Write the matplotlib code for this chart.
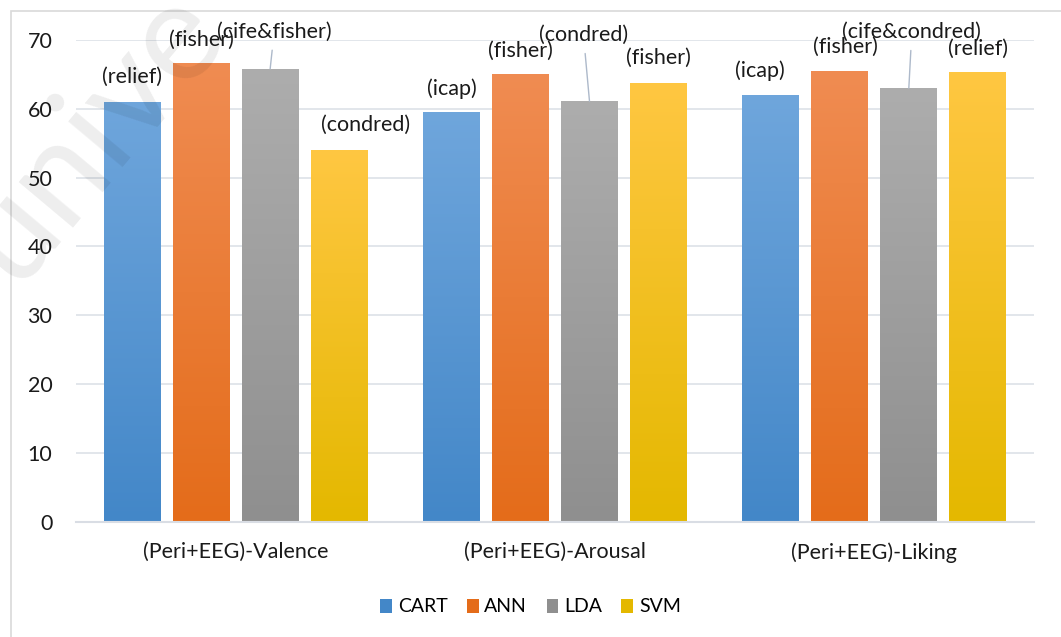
import numpy as np
import matplotlib.pyplot as plt
from matplotlib.patches import Rectangle, Patch
from matplotlib.colors import LinearSegmentedColormap

plt.rcParams['font.family'] = ['Lato', 'DejaVu Sans']

# Data
categories = ["(Peri+EEG)-Valence", "(Peri+EEG)-Arousal", "(Peri+EEG)-Liking"]
models = ["CART", "ANN", "LDA", "SVM"]
cart = [61.0, 59.5, 62.0]
ann = [66.6, 65.0, 65.5]
lda = [65.8, 61.1, 63.0]
svm = [54.0, 63.7, 65.3]
values = [cart, ann, lda, svm]

# Feature selection method shown above each bar
cart_lab = ["(relief)", "(icap)", "(icap)"]
ann_lab = ["(fisher)", "(fisher)", "(fisher)"]
lda_lab = ["(cife&fisher)", "(condred)", "(cife&condred)"]
svm_lab = ["(condred)", "(fisher)", "(relief)"]
labels = [cart_lab, ann_lab, lda_lab, svm_lab]

# label offsets in pixels (dx, dy, leader line)
offsets = [
    [(0, 25, False), (0, 24, False), (-11, 24, False)],
    [(0, 24, False), (0, 24, False), (6, 24, False)],
    [(4, 37, True), (-6, 66, True), (3, 56, True)],
    [(26, 25, False), (0, 25, False), (0, 23, False)],
]

# gradient colours: (top, bottom)
grad = [
    ("#6fa6dc", "#4387c8"),
    ("#f08c52", "#e46c1a"),
    ("#adadad", "#8f8f8f"),
    ("#ffc742", "#e4b800"),
]

FS = 15.5

fig = plt.figure(figsize=(10.61, 6.37), dpi=100)
ax = fig.add_axes([76 / 1061, 1 - 521.5 / 637, (1034 - 76) / 1061, (521.5 - 40) / 637])

x = np.arange(len(categories))
step = 0.216
width = 0.178

ax.set_xlim(-0.5, 2.5)
ax.set_ylim(0, 70)

g = np.linspace(0, 1, 256).reshape(-1, 1)
for i, vals in enumerate(values):
    cmap = LinearSegmentedColormap.from_list("g%d" % i, [grad[i][1], grad[i][0]])
    xs = x + (i - 1.5) * step
    bars = ax.bar(xs, vals, width, color="none", edgecolor="none", zorder=2)
    for j, b in enumerate(bars):
        im = ax.imshow(g, cmap=cmap, origin="lower", aspect="auto",
                       extent=[b.get_x(), b.get_x() + width, 0, vals[j]], zorder=2)
        im.set_clip_path(b)
        dx, dy, leader = offsets[i][j]
        if leader:
            ax.annotate(labels[i][j], xy=(xs[j], vals[j]), xytext=(dx, dy),
                        textcoords="offset pixels", ha="center", va="center",
                        fontsize=FS, color="#1a1a1a", zorder=4,
                        arrowprops=dict(arrowstyle="-", color="#adb9ca", lw=1,
                                        shrinkA=4, shrinkB=0))
        else:
            ax.annotate(labels[i][j], xy=(xs[j], vals[j]), xytext=(dx, dy),
                        textcoords="offset pixels", ha="center", va="center",
                        fontsize=FS, color="#1a1a1a", zorder=4)

ax.set_xticks(x)
ax.set_xticklabels(categories)
ax.set_yticks(np.arange(0, 71, 10))
ax.tick_params(axis="both", length=0, labelsize=FS, colors="#1a1a1a")
ax.tick_params(axis="x", pad=15)
ax.tick_params(axis="y", pad=17)
ax.grid(axis="y", color="#dde1e8", lw=1.2, zorder=0)
ax.set_axisbelow(True)
for s in ["top", "right", "left"]:
    ax.spines[s].set_visible(False)
ax.spines["bottom"].set_color("#d9dde4")
ax.spines["bottom"].set_linewidth(1.5)

handles = [Patch(facecolor=grad[i][1], edgecolor="none") for i in range(4)]
fig.legend(handles, models, loc="center", bbox_to_anchor=(0.5, 1 - 607 / 637),
           ncol=4, frameon=False, fontsize=14, handlelength=0.6, handleheight=0.7,
           handletextpad=0.3, columnspacing=1.0)

# chart border
fig.patches.append(Rectangle((11 / 1061, -0.05), 1.1, 1 - 11 / 637 + 0.05,
                             transform=fig.transFigure, fill=False,
                             edgecolor="#d9d9d9", lw=1.2))

# faint watermark
fig.text(0.087, 0.79, "unive", fontsize=100, color="#000000", alpha=0.07,
         rotation=50, ha="center", va="center")

fig.savefig("out.png", dpi=100)
